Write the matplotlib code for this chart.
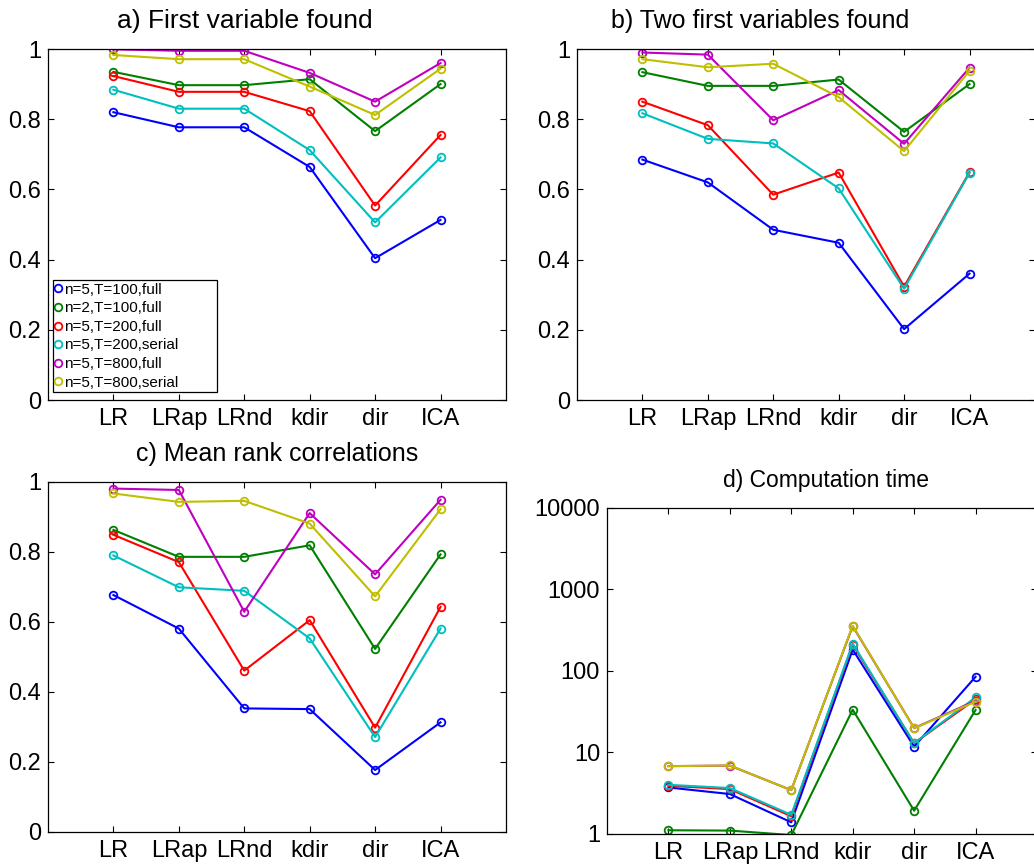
import numpy as np
import matplotlib
matplotlib.use('Agg')
import matplotlib.pyplot as plt
from matplotlib.ticker import FixedLocator, FixedFormatter, NullLocator

plt.rcParams['font.family'] = ['Liberation Sans', 'DejaVu Sans']

# data
methods = ['LR', 'LRap', 'LRnd', 'kdir', 'dir', 'ICA']
labels = ['n=5,T=100,full', 'n=2,T=100,full', 'n=5,T=200,full',
          'n=5,T=200,serial', 'n=5,T=800,full', 'n=5,T=800,serial']
colors = ['#0000ff', '#008000', '#ff0000', '#00bfbf', '#bf00bf', '#bfbf00']

# a) First variable found
first_found = [
    [0.820, 0.777, 0.777, 0.664, 0.404, 0.513],
    [0.935, 0.897, 0.897, 0.914, 0.766, 0.900],
    [0.923, 0.878, 0.878, 0.823, 0.554, 0.755],
    [0.884, 0.830, 0.830, 0.712, 0.506, 0.691],
    [0.999, 0.995, 0.995, 0.932, 0.850, 0.960],
    [0.983, 0.971, 0.971, 0.893, 0.812, 0.944],
]
# b) Two first variables found
two_found = [
    [0.685, 0.620, 0.485, 0.448, 0.202, 0.360],
    [0.934, 0.895, 0.895, 0.913, 0.764, 0.900],
    [0.850, 0.783, 0.585, 0.648, 0.323, 0.649],
    [0.817, 0.744, 0.731, 0.603, 0.317, 0.647],
    [0.990, 0.984, 0.797, 0.883, 0.730, 0.947],
    [0.971, 0.948, 0.958, 0.863, 0.709, 0.938],
]
# c) Mean rank correlations
rank_corr = [
    [0.677, 0.581, 0.353, 0.351, 0.177, 0.313],
    [0.863, 0.786, 0.786, 0.819, 0.523, 0.793],
    [0.849, 0.771, 0.461, 0.605, 0.298, 0.643],
    [0.790, 0.699, 0.689, 0.553, 0.271, 0.581],
    [0.981, 0.977, 0.629, 0.911, 0.736, 0.949],
    [0.967, 0.943, 0.946, 0.881, 0.673, 0.922],
]
# d) Computation time
comp_time = [
    [3.72, 3.09, 1.39, 183, 11.8, 84.9],
    [1.11, 1.10, 0.97, 33.5, 1.93, 33.2],
    [3.90, 3.55, 1.65, 210, 13.0, 45.0],
    [4.01, 3.66, 1.72, 217, 13.0, 47.4],
    [6.80, 6.90, 3.45, 355, 19.9, 43.0],
    [6.79, 6.92, 3.45, 360, 19.8, 42.0],
]


def style_axes(ax, title, title_x, title_size):
    ax.set_xlim(0, 7)
    ax.set_xticks(np.arange(1, 7))
    ax.set_xticklabels(methods)
    ax.tick_params(direction='in', top=True, right=True, length=4, width=0.8,
                   labelsize=17, pad=5)
    ax.tick_params(axis='x', pad=6)
    for s in ax.spines.values():
        s.set_linewidth(0.9)
    ax.set_title(title, fontsize=title_size, pad=15, x=title_x)


def line_panel(ax, data, title, title_x, title_size=18):
    x = np.arange(1, 7)
    for vals, c, lab in zip(data, colors, labels):
        ax.plot(x, vals, '-o', color=c, lw=1.5, ms=5.5, mfc='none', mew=1.3, label=lab)
    style_axes(ax, title, title_x, title_size)
    ax.set_ylim(0, 1)
    ax.set_yticks([0, 0.2, 0.4, 0.6, 0.8, 1])
    ax.set_yticklabels(['0', '0.2', '0.4', '0.6', '0.8', '1'])


fig = plt.figure(figsize=(10.34, 8.66), dpi=100)

ax1 = fig.add_axes([0.0464, 0.5381, 0.4429, 0.4053])
line_panel(ax1, first_found, 'a) First variable found', 0.43, 19)
leg = ax1.legend(loc='lower left', bbox_to_anchor=(0.011, 0.023, 0.358, 0.32),
                 mode='expand', fontsize=11,
                 handlelength=0.4, handletextpad=0.15, labelspacing=0.3,
                 borderpad=0.15, borderaxespad=0, fancybox=False, framealpha=1)
leg.get_frame().set_edgecolor('black')
leg.get_frame().set_linewidth(0.9)
for h in leg.legend_handles:
    h.set_linestyle('none')

ax2 = fig.add_axes([0.5580, 0.5381, 0.4429, 0.4053])
line_panel(ax2, two_found, 'b) Two first variables found', 0.40)

ax3 = fig.add_axes([0.0464, 0.0393, 0.4429, 0.4042])
line_panel(ax3, rank_corr, 'c) Mean rank correlations', 0.5)

ax4 = fig.add_axes([0.5870, 0.0370, 0.4159, 0.3764])
x = np.arange(1, 7)
for vals, c in zip(comp_time, colors):
    ax4.plot(x, vals, '-o', color=c, lw=1.5, ms=5.5, mfc='none', mew=1.3)
ax4.set_yscale('log')
style_axes(ax4, 'd) Computation time', 0.51, 16.5)
ax4.set_ylim(1, 10000)
ax4.yaxis.set_major_locator(FixedLocator([1, 10, 100, 1000, 10000]))
ax4.yaxis.set_major_formatter(FixedFormatter(['1', '10', '100', '1000', '10000']))
ax4.yaxis.set_minor_locator(NullLocator())

plt.savefig('out.png', dpi=100)
